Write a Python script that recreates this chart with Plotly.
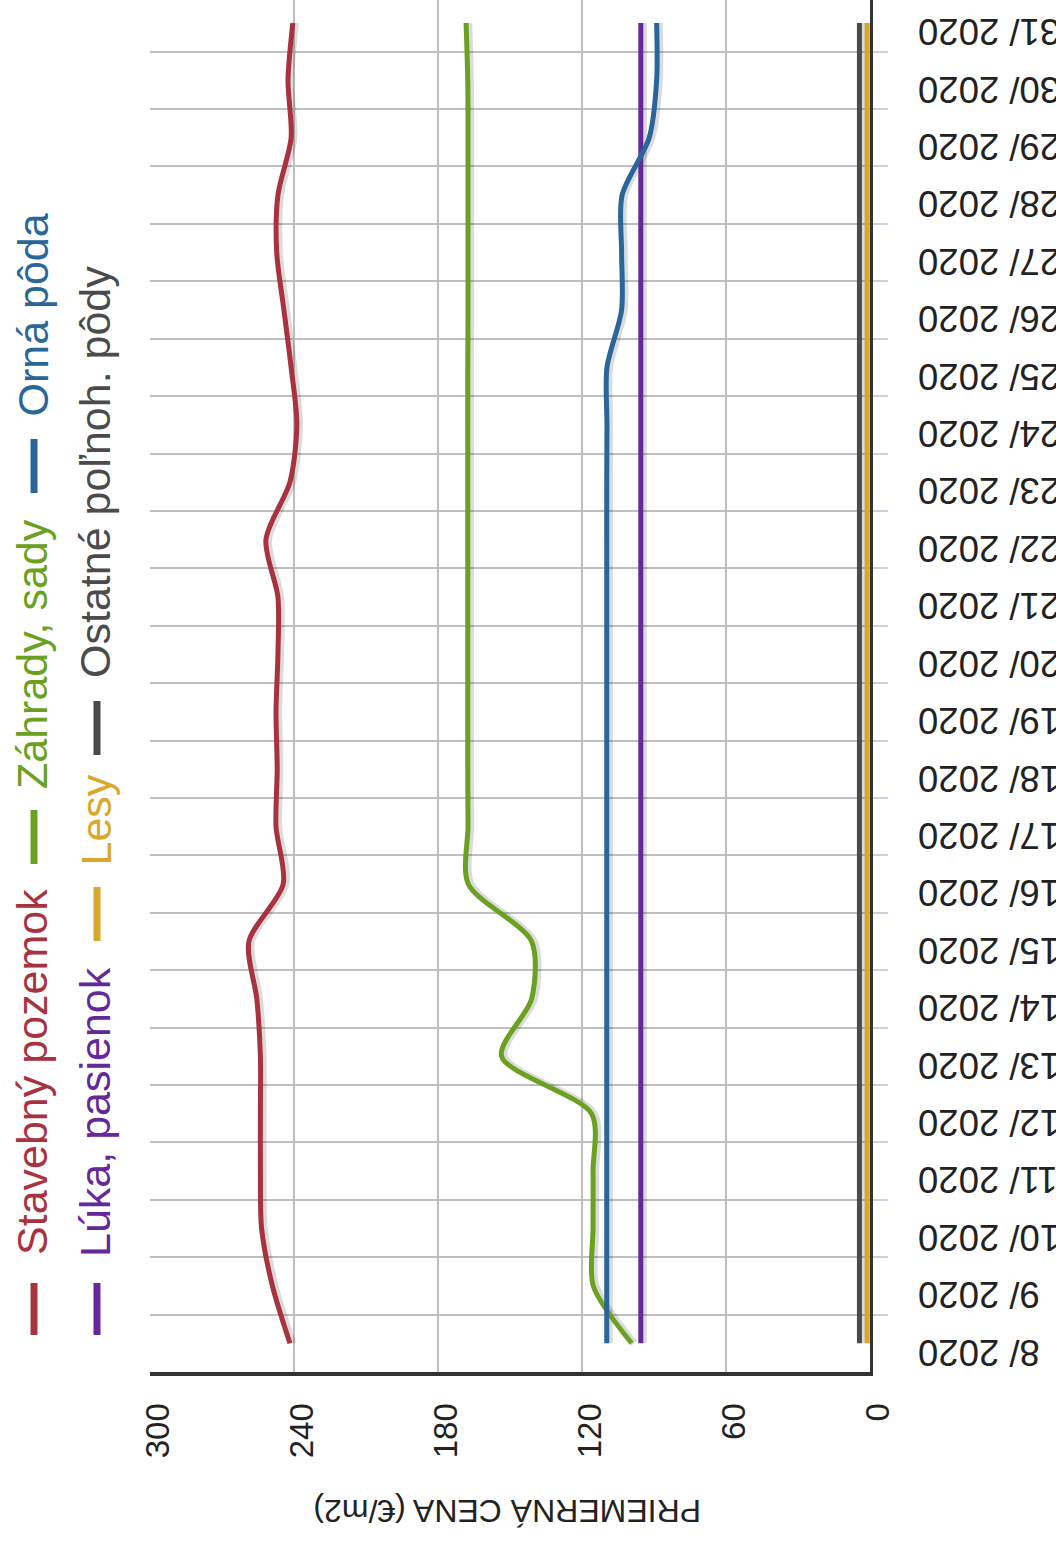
import plotly.graph_objects as go

# Week labels (category axis) and price tick values
dates = ["8/ 2020", "9/ 2020", "10/ 2020", "11/ 2020", "12/ 2020", "13/ 2020",
         "14/ 2020", "15/ 2020", "16/ 2020", "17/ 2020", "18/ 2020", "19/ 2020",
         "20/ 2020", "21/ 2020", "22/ 2020", "23/ 2020", "24/ 2020", "25/ 2020",
         "26/ 2020", "27/ 2020", "28/ 2020", "29/ 2020", "30/ 2020", "31/ 2020"]
price_ticks = [0, 60, 120, 180, 240, 300]

# Average price per land type (EUR/m2)
stavebny = [241.7, 249.0, 253.5, 254.0, 254.0, 254.0, 255.5, 258.8, 244.5, 247.5,
            247.0, 247.5, 246.7, 246.7, 251.7, 241.7, 238.8, 241.2, 244.2, 247.2,
            246.7, 241.2, 242.5, 240.5]
luka = [95.5, 95.5, 95.5, 95.5, 95.5, 95.5, 95.5, 95.5, 95.5, 95.5, 95.5, 95.5,
        95.5, 95.5, 95.5, 95.5, 95.5, 95.5, 95.5, 95.5, 95.5, 95.5, 95.5, 95.5]
zahrady = [99.3, 115.3, 115.4, 115.4, 116.0, 153.5, 141.0, 141.0, 167.4, 167.5,
           167.6, 167.6, 167.6, 167.6, 167.6, 167.6, 167.6, 167.6, 167.5, 167.5,
           167.5, 167.5, 167.6, 168.3]
lesy = [1.2, 1.2, 1.2, 1.2, 1.2, 1.2, 1.2, 1.2, 1.2, 1.2, 1.2, 1.2,
        1.2, 1.2, 1.2, 1.2, 1.2, 1.2, 1.2, 1.2, 1.2, 1.2, 1.2, 1.2]
orna = [109.7, 109.7, 109.7, 109.7, 109.7, 109.7, 109.7, 109.7, 109.7, 109.7,
        109.7, 109.7, 109.7, 109.7, 109.7, 109.7, 109.6, 109.6, 103.5, 103.5,
        103.3, 92.0, 88.9, 88.9]
ostatne = [4.4, 4.4, 4.4, 4.4, 4.4, 4.4, 4.4, 4.4, 4.4, 4.4, 4.4, 4.4,
           4.4, 4.4, 4.4, 4.4, 4.4, 4.4, 4.4, 4.4, 4.4, 4.4, 4.4, 4.4]

series = [
    ("Stavebný pozemok", stavebny, "#a8323e"),
    ("Lúka, pasienok", luka, "#65289a"),
    ("Záhrady, sady", zahrady, "#6aa121"),
    ("Lesy", lesy, "#d8a72b"),
    ("Orná pôda", orna, "#2a6698"),
    ("Ostatné poľnoh. pôdy", ostatne, "#4b4b4b"),
]

FONT = "Liberation Sans, Arial, sans-serif"
W, H = 1056, 1542
ML, MR, MB = 150, 15, 170
PAPER_W = W - ML - MR
PLOT_RIGHT = 870
PLOT_BOTTOM = H - MB


def px_x(px):
    return (px - ML) / PAPER_W


def px_y(py):
    return (PLOT_BOTTOM - py) / PLOT_BOTTOM


idx = list(range(len(dates)))
y_range = [-0.5, 23.40]

fig = go.Figure()

# soft drop shadows under the lines
for name, vals, color in series:
    fig.add_trace(go.Scatter(
        x=[v - 1.1 for v in vals], y=idx, mode="lines", xaxis="x", yaxis="y",
        line=dict(color="rgba(0,0,0,0.14)", width=7, shape="spline", smoothing=0.8),
        hoverinfo="skip", showlegend=False))

for name, vals, color in series:
    fig.add_trace(go.Scatter(
        x=vals, y=idx, mode="lines", name=name, xaxis="x", yaxis="y2",
        line=dict(color=color, width=5, shape="spline", smoothing=0.8),
        showlegend=False))

# legend drawn as rotated text with colored dashes
legend_items = [
    # name, color, dash x, dash y0, dash y1, text x, text bottom
    ("Stavebný pozemok", "#a8323e", 34, 1283, 1335, 32, 1257),
    ("Záhrady, sady", "#6aa121", 34, 810, 864, 32, 791),
    ("Orná pôda", "#2a6698", 34, 439, 493, 32, 419),
    ("Lúka, pasienok", "#65289a", 97, 1283, 1335, 95, 1259),
    ("Lesy", "#d8a72b", 97, 887, 941, 95, 868),
    ("Ostatné poľnoh. pôdy", "#4b4b4b", 97, 701, 755, 95, 680),
]
shapes = []
annotations = []
for name, color, dx, dy0, dy1, tx, tb in legend_items:
    shapes.append(dict(type="line", xref="paper", yref="paper",
                       x0=px_x(dx), x1=px_x(dx), y0=px_y(dy0), y1=px_y(dy1),
                       line=dict(color=color, width=7)))
    annotations.append(dict(text=name, xref="paper", yref="paper",
                            x=px_x(tx), y=px_y(tb), xanchor="center", yanchor="bottom",
                            textangle=-90, showarrow=False,
                            font=dict(family=FONT, size=43, color=color)))

annotations.append(dict(text="PRIEMERNÁ CENA (€/m2)", xref="paper", yref="paper",
                        x=px_x(507), y=px_y(1511), xanchor="center", yanchor="middle",
                        textangle=180, showarrow=False,
                        font=dict(family=FONT, size=32, color="#222")))

fig.update_layout(
    width=W, height=H,
    margin=dict(l=ML, r=MR, t=0, b=MB),
    paper_bgcolor="white", plot_bgcolor="white",
    font=dict(family=FONT, color="#222"),
    showlegend=False,
    shapes=shapes, annotations=annotations,
    xaxis=dict(
        domain=[0, (PLOT_RIGHT - ML) / PAPER_W],
        range=[300, 0], tickmode="array", tickvals=price_ticks,
        tickangle=-90, tickfont=dict(size=33, color="#222"),
        showgrid=True, gridcolor="#bfbfbf", gridwidth=2,
        showline=True, linecolor="#333", linewidth=4,
        zeroline=False, ticks="", ticklabelstandoff=14, ticklabelshift=-8,
        automargin=False,
    ),
    yaxis=dict(
        range=y_range, side="right", anchor="x",
        tickmode="array", tickvals=[i + 0.5 for i in idx[:-1]],
        showticklabels=False, ticks="outside", ticklen=15, tickwidth=2,
        tickcolor="#c4d2e2",
        showgrid=True, gridcolor="#bfbfbf", gridwidth=2,
        showline=True, linecolor="#333", linewidth=3, zeroline=False,
        automargin=False,
    ),
    yaxis2=dict(
        range=y_range, overlaying="y", anchor="free", side="left",
        position=px_x(918),
        tickmode="array", tickvals=idx, ticktext=dates,
        tickangle=180, tickfont=dict(size=36.5, color="#222"),
        ticklabelshift=20, ticklabeloverflow="allow",
        showgrid=False, showline=False, zeroline=False, ticks="",
        automargin=False,
    ),
)

fig.write_html("out.html")
